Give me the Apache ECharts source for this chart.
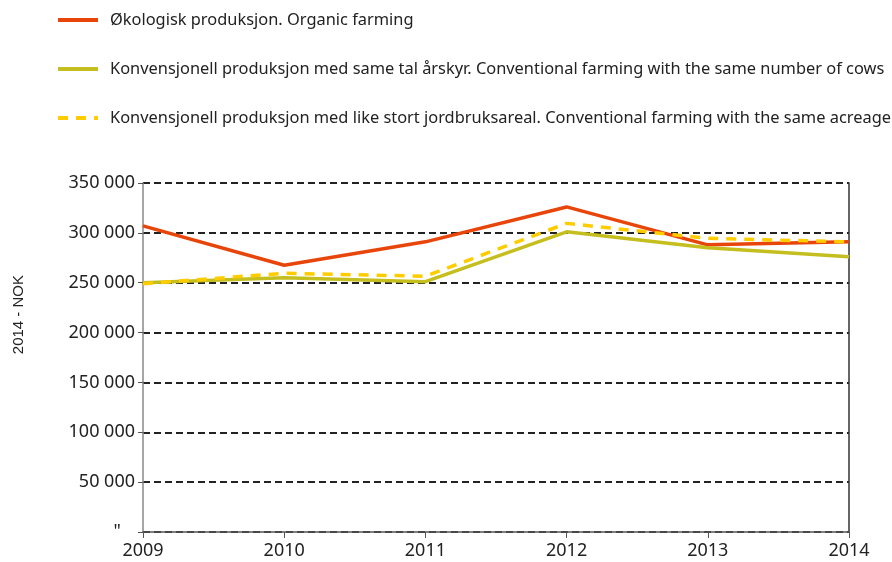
<!DOCTYPE html>
<html>
<head>
<meta charset="utf-8">
<script src="https://cdn.jsdelivr.net/npm/echarts@6/dist/echarts.min.js"></script>
<style>html,body{margin:0;padding:0;background:#fff}#c{width:892px;height:562px}</style>
</head>
<body>
<div id="c"></div>
<script>
var years = ['2009','2010','2011','2012','2013','2014'];
var seriesNames = [
  'Økologisk produksjon. Organic farming',
  'Konvensjonell produksjon med same tal årskyr. Conventional farming with the same number of cows',
  'Konvensjonell produksjon med like stort jordbruksareal. Conventional farming with the same acreage'
];
var organic = [307000, 267500, 291000, 326000, 288000, 291000];
var sameCows = [250000, 255000, 251000, 301000, 285000, 276000];
var sameAcreage = [249000, 259500, 256500, 309500, 294500, 291000];
var yTickLabels = {0:'"   ',50000:'50 000',100000:'100 000',150000:'150 000',200000:'200 000',250000:'250 000',300000:'300 000',350000:'350 000'};
var yAxisTitle = '2014 - NOK';

var font = '"Noto Sans", sans-serif';
var chart = echarts.init(document.getElementById('c'));
chart.setOption({
  animation: false,
  backgroundColor: '#fff',
  legend: {
    orient: 'vertical',
    left: 51,
    top: 7,
    itemWidth: 40,
    itemHeight: 14,
    itemGap: 33,
    itemStyle: {opacity: 0},
    lineStyle: {width: 4},
    textStyle: {fontFamily: font, fontSize: 16.4, color: '#222', padding: [0,0,0,7]},
    data: seriesNames
  },
  grid: {left: 143, right: 43, top: 183, bottom: 30, containLabel: false},
  xAxis: {
    type: 'category',
    data: years,
    boundaryGap: false,
    axisLine: {lineStyle: {color: '#555', width: 1.5}},
    axisTick: {alignWithLabel: true, length: 6, lineStyle: {color: '#555'}},
    axisLabel: {fontFamily: font, fontSize: 18, color: '#222', margin: 10},
    splitLine: {show: false}
  },
  yAxis: [{
    type: 'value',
    min: 0, max: 350000, interval: 50000,
    axisLine: {show: true, lineStyle: {color: '#888', width: 1.5}},
    axisTick: {show: true, length: 5, lineStyle: {color: '#555'}},
    axisLabel: {fontFamily: font, fontSize: 18, color: '#222', margin: 8,
      formatter: function(v){ return yTickLabels[v] !== undefined ? yTickLabels[v] : ''; }},
    splitLine: {show: true, lineStyle: {color: '#222', width: 2, type: [7,4]}}
  },{
    type: 'value',
    min: 0, max: 350000, interval: 50000,
    position: 'right',
    axisLine: {show: true, lineStyle: {color: '#333', width: 1.5}},
    axisTick: {show: false},
    axisLabel: {show: false},
    splitLine: {show: false}
  }],
  graphic: [{
    type: 'text',
    left: 11, top: 275,
    rotation: Math.PI/2,
    style: {text: yAxisTitle, fontFamily: '"Liberation Sans", Arial, sans-serif', fontSize: 15, fill: '#222'}
  }],
  series: [
    {name: seriesNames[0], type: 'line', data: organic, symbol: 'none',
     lineStyle: {color: '#E8450A', width: 3.5}, itemStyle: {color: '#E8450A'}},
    {name: seriesNames[1], type: 'line', data: sameCows, symbol: 'none',
     lineStyle: {color: '#C4BE1E', width: 3.5}, itemStyle: {color: '#C4BE1E'}},
    {name: seriesNames[2], type: 'line', data: sameAcreage, symbol: 'none',
     lineStyle: {color: '#FFCC00', width: 3.5, type: [10,8]}, itemStyle: {color: '#FFCC00'}}
  ]
});
</script>
</body>
</html>
